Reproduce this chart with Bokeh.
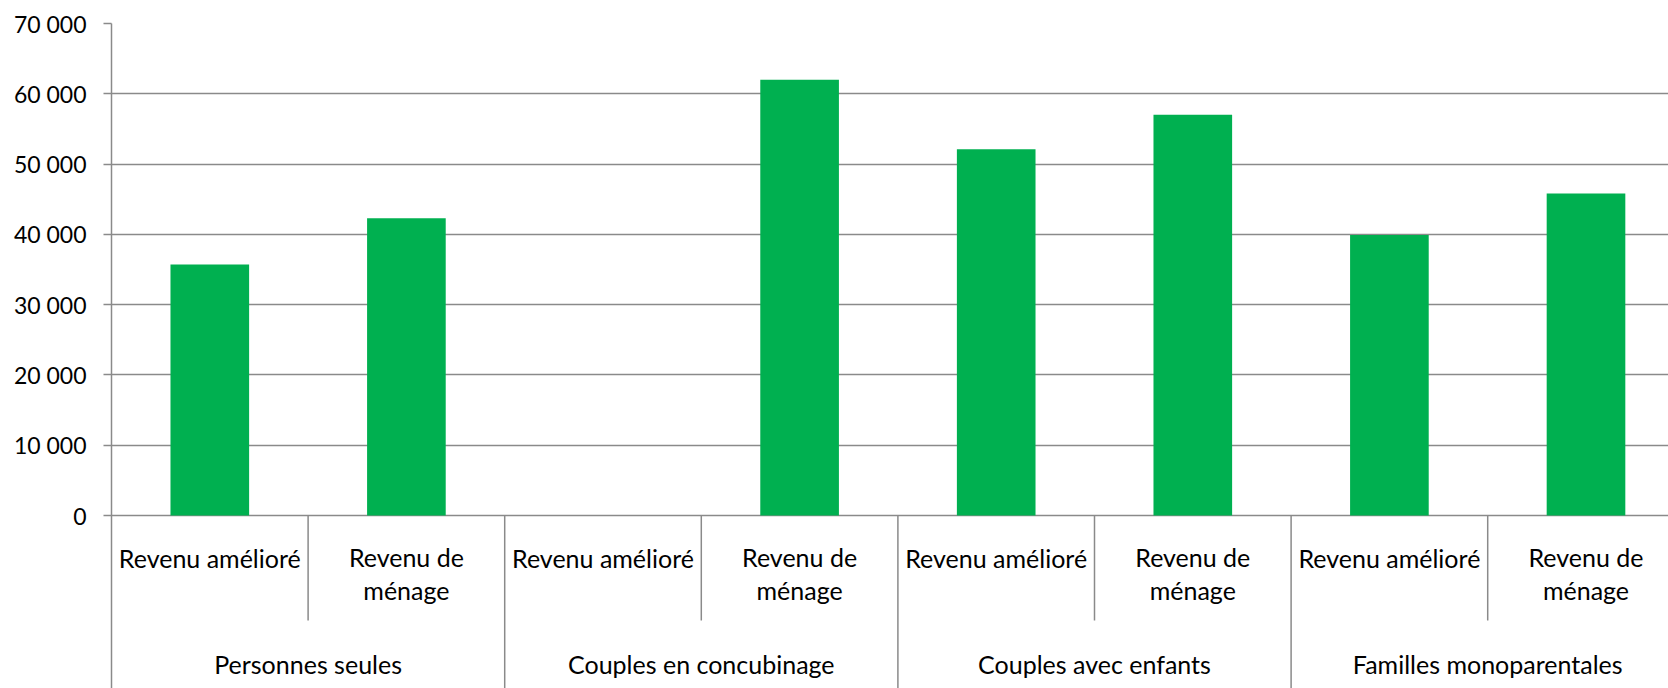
import numpy as np
from bokeh.plotting import figure
from bokeh.models import Range1d, FixedTicker
from bokeh.core.properties import value
from bokeh.embed import file_html
from bokeh.resources import INLINE

# ---------------- data ----------------
groups = ["Personnes seules", "Couples en concubinage", "Couples avec enfants", "Familles monoparentales"]
subcats = ["Revenu amélioré", "Revenu de\nménage"]
revenu_ameliore = [35700, np.nan, 52100, 39900]
revenu_menage = [42300, 62000, 57000, 45800]
yticks = [0, 10000, 20000, 30000, 40000, 50000, 60000, 70000]
ytick_labels = ["0", "10 000", "20 000", "30 000", "40 000", "50 000", "60 000", "70 000"]

# ---------------- layout ----------------
W, H = 1668, 688
LEFT, TOP = 111, 23
FRAME_W = W - LEFT
FRAME_H = H - TOP
SLOT_PX = 196.6
ZERO_PX = 515 - TOP              # distance frame top -> value 0
Y_MAX = yticks[-1]
PX_PER_UNIT = ZERO_PX / Y_MAX
Y_MIN = -(FRAME_H - ZERO_PX) / PX_PER_UNIT
X_MAX = FRAME_W / SLOT_PX

def below(px):
    return -px / PX_PER_UNIT

FONT = "Lato"
FS_TICK = "23px"
FS = "25px"
GREEN = "#00B050"
GRAY = "#8A8A8A"

p = figure(width=W, height=H, x_range=Range1d(0, X_MAX), y_range=Range1d(Y_MIN, Y_MAX),
           output_backend="svg", toolbar_location=None, x_axis_type=None,
           min_border_left=LEFT, min_border_right=0, min_border_top=TOP, min_border_bottom=0)
p.outline_line_color = None
p.background_fill_color = "white"
p.border_fill_color = "white"

ticker = FixedTicker(ticks=yticks)
p.yaxis.ticker = ticker
p.yaxis.major_label_overrides = {t: l for t, l in zip(yticks, ytick_labels)}
p.yaxis.minor_tick_line_color = None
p.yaxis.major_tick_in = 0
p.yaxis.major_tick_out = 8
p.yaxis.major_tick_line_color = GRAY
p.yaxis.major_tick_line_width = 1.5
p.yaxis.axis_line_color = GRAY
p.yaxis.axis_line_width = 1.5
p.yaxis.major_label_text_font = FONT
p.yaxis.major_label_text_font_size = FS_TICK
p.yaxis.major_label_text_color = "black"
p.yaxis.major_label_standoff = 17
p.ygrid.ticker = ticker
p.ygrid.grid_line_color = GRAY
p.ygrid.grid_line_width = 1.5

# bars
xs, tops = [], []
for g in range(len(groups)):
    for s, vals in enumerate([revenu_ameliore, revenu_menage]):
        xs.append(2 * g + s + 0.5)
        tops.append(vals[g])
p.vbar(x=xs, top=tops, bottom=0, width=0.4, fill_color=GREEN, line_color=None)

# separators
sub_x = [2 * g + 1 for g in range(len(groups))]
grp_x = [2 * g for g in range(1, len(groups))]
p.segment(x0=sub_x, y0=[0] * len(sub_x), x1=sub_x, y1=[below(105)] * len(sub_x),
          line_color=GRAY, line_width=1.5)
p.segment(x0=grp_x, y0=[0] * len(grp_x), x1=grp_x, y1=[Y_MIN] * len(grp_x),
          line_color=GRAY, line_width=1.5)

# sub-category labels
one_x = [2 * g + 0.5 for g in range(len(groups))]
two_x = [2 * g + 1.5 for g in range(len(groups))]
p.text(x=one_x, y=[below(42)] * len(one_x), text=[subcats[0]] * len(one_x),
       text_font=value(FONT), text_font_size=FS, text_color="black",
       text_align="center", text_baseline="middle")
p.text(x=two_x, y=[below(58)] * len(two_x), text=[subcats[1]] * len(two_x),
       text_font=value(FONT), text_font_size=FS, text_color="black",
       text_align="center", text_baseline="middle", text_line_height=1.08)

# group labels
gx = [2 * g + 1 for g in range(len(groups))]
p.text(x=gx, y=[below(148)] * len(gx), text=groups,
       text_font=value(FONT), text_font_size=FS, text_color="black",
       text_align="center", text_baseline="middle")

open("out.html", "w").write(file_html(p, INLINE))
